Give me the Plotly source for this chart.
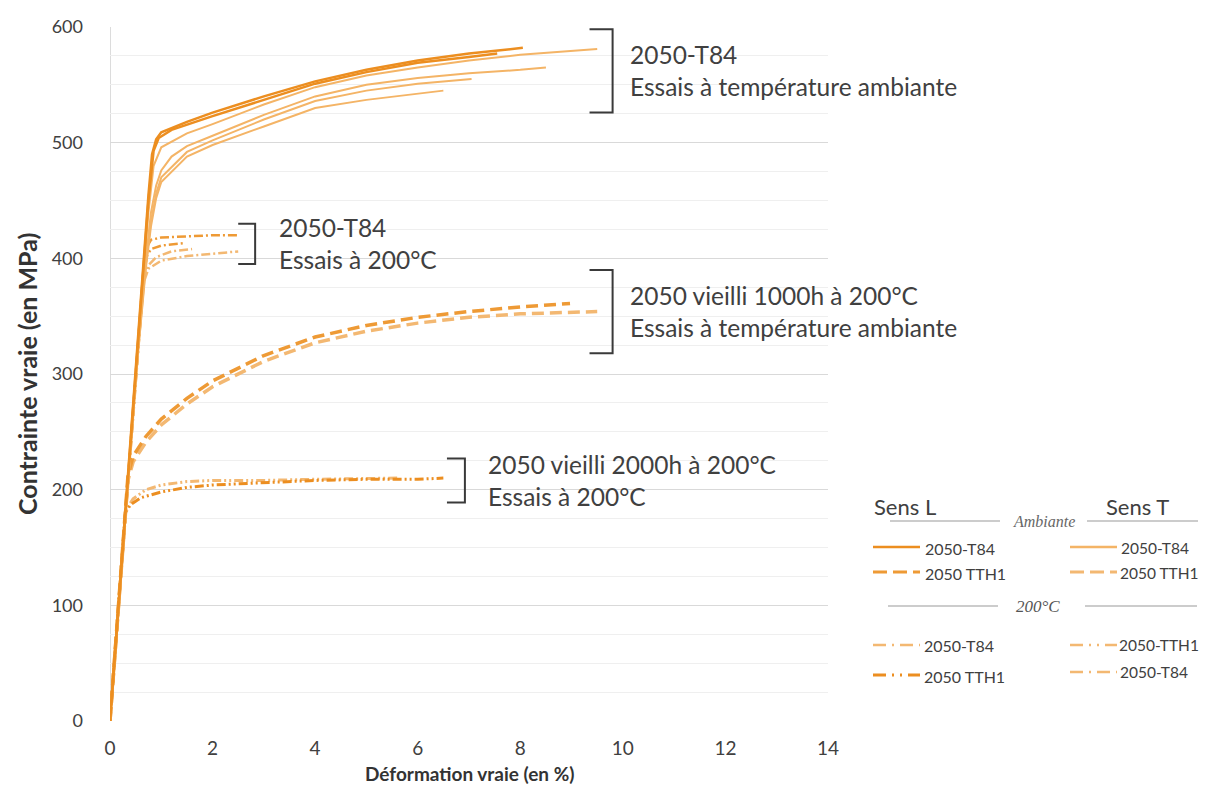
import plotly.graph_objects as go

# ---- data (true strain %, true stress MPa) ----
# ambient tests, 2050-T84, sens L
amb_t84_L1_x = [0, 0.3, 0.6, 0.75, 0.82, 0.9, 1.0, 1.5, 2, 3, 4, 5, 6, 7, 8.05]
amb_t84_L1_y = [0, 185, 365, 455, 490, 503, 509, 518, 526, 540, 553, 563, 571, 577, 582]
amb_t84_L2_x = [0, 0.3, 0.6, 0.75, 0.85, 0.95, 1.2, 2, 3, 4, 5, 6, 7, 7.55]
amb_t84_L2_y = [0, 182, 362, 450, 493, 504, 511, 523, 537, 551, 561, 569, 574, 577]
# ambient tests, 2050-T84, sens T
amb_t84_T1_x = [0, 0.3, 0.6, 0.75, 0.85, 1.0, 1.5, 2, 3, 4, 5, 6, 7, 8, 9, 9.5]
amb_t84_T1_y = [0, 180, 355, 440, 480, 496, 508, 516, 533, 548, 558, 565, 571, 576, 579, 581]
amb_t84_T2_x = [0, 0.3, 0.55, 0.7, 0.8, 0.9, 1.0, 1.2, 1.5, 2, 3, 4, 5, 6, 7, 8, 8.5]
amb_t84_T2_y = [0, 178, 325, 400, 440, 463, 476, 488, 497, 506, 524, 540, 550, 556, 560, 563, 565]
amb_t84_T3_x = [0, 0.3, 0.55, 0.7, 0.8, 0.9, 1.0, 1.5, 2, 3, 4, 5, 6, 7.05]
amb_t84_T3_y = [0, 176, 322, 395, 432, 456, 470, 492, 502, 520, 536, 545, 551, 555]
amb_t84_T4_x = [0, 0.3, 0.55, 0.7, 0.8, 0.9, 1.0, 1.5, 2, 3, 4, 5, 6, 6.5]
amb_t84_T4_y = [0, 175, 320, 392, 428, 452, 466, 488, 498, 514, 530, 537, 542, 545]

# ambient tests, 2050 aged 1000h at 200 C (TTH1)
amb_tth1_L_x = [0, 0.2, 0.35, 0.45, 0.7, 1, 1.5, 2, 3, 4, 5, 6, 7, 8, 8.97]
amb_tth1_L_y = [0, 125, 212, 229, 246, 261, 279, 294, 316, 332, 342, 349, 354, 358, 361]
amb_tth1_T_x = [0, 0.2, 0.35, 0.45, 0.7, 1, 1.5, 2, 3, 4, 5, 6, 7, 8, 9.5]
amb_tth1_T_y = [0, 122, 208, 224, 241, 256, 274, 289, 311, 327, 337, 344, 349, 352, 354]

# 200 C tests, 2050-T84
hot_t84_L1_x = [0, 0.3, 0.55, 0.65, 0.72, 0.8, 1.0, 1.5, 2, 2.5]
hot_t84_L1_y = [0, 180, 330, 388, 410, 416, 418, 419, 420, 420]
hot_t84_L2_x = [0, 0.3, 0.55, 0.65, 0.72, 0.8, 1.0, 1.42]
hot_t84_L2_y = [0, 180, 328, 385, 402, 408, 411, 413]
hot_t84_T1_x = [0, 0.3, 0.55, 0.65, 0.75, 1.0, 1.5, 2, 2.5]
hot_t84_T1_y = [0, 178, 325, 378, 391, 398, 402, 404, 406]
hot_t84_T2_x = [0, 0.3, 0.55, 0.65, 0.75, 0.9, 1.2, 1.6]
hot_t84_T2_y = [0, 178, 325, 380, 394, 401, 406, 408]

# 200 C tests, 2050 aged 2000h at 200 C (TTH1)
hot_tth1_L_x = [0, 0.3, 0.4, 0.6, 1, 1.5, 2, 3, 4, 5, 6, 6.5]
hot_tth1_L_y = [0, 180, 187, 193, 198, 202, 204, 206, 208, 209, 209, 210]
hot_tth1_T_x = [0, 0.3, 0.45, 0.7, 1, 1.5, 2, 3, 4, 5, 5.6]
hot_tth1_T_y = [0, 182, 192, 200, 204, 207, 208, 208, 209, 210, 210]

x_ticks = [0, 2, 4, 6, 8, 10, 12, 14]
y_ticks = [0, 100, 200, 300, 400, 500, 600]

# ---- styles ----
C_L = '#EC8E20'
C_T = '#F4B466'
C_L2 = '#EE9A35'
C_T2 = '#F3B872'
DASH = '12px,6px'
DASHDOT = '9px,3px,2px,3px'
DASHDOTDOT = '9px,3px,2px,3px,2px,3px'
FONT = 'Lato'
TXT = '#404040'

fig = go.Figure()


def add_curve(x, y, color, width, dash='solid'):
    fig.add_trace(go.Scatter(x=x, y=y, mode='lines', showlegend=False,
                             line=dict(color=color, width=width, dash=dash)))


add_curve(hot_tth1_T_x, hot_tth1_T_y, C_T2, 3, DASHDOTDOT)
add_curve(hot_tth1_L_x, hot_tth1_L_y, C_L, 3, DASHDOTDOT)
add_curve(hot_t84_T1_x, hot_t84_T1_y, C_T2, 2.5, DASHDOT)
add_curve(hot_t84_T2_x, hot_t84_T2_y, C_T2, 2.5, DASHDOT)
add_curve(hot_t84_L1_x, hot_t84_L1_y, C_L2, 2.5, DASHDOT)
add_curve(hot_t84_L2_x, hot_t84_L2_y, C_L2, 2.5, DASHDOT)
add_curve(amb_tth1_T_x, amb_tth1_T_y, C_T2, 3.5, DASH)
add_curve(amb_tth1_L_x, amb_tth1_L_y, C_L2, 3.5, DASH)
add_curve(amb_t84_T4_x, amb_t84_T4_y, C_T, 2)
add_curve(amb_t84_T3_x, amb_t84_T3_y, C_T, 2)
add_curve(amb_t84_T2_x, amb_t84_T2_y, C_T, 2)
add_curve(amb_t84_T1_x, amb_t84_T1_y, C_T, 2)
add_curve(amb_t84_L2_x, amb_t84_L2_y, C_L, 2.5)
add_curve(amb_t84_L1_x, amb_t84_L1_y, C_L, 2.5)

shapes = []
annotations = []


# bracket + two-line label
def bracket(xa, xb, y0, y1, xt, line1, line2, size=24.5):
    shapes.append(dict(type='path', xref='x', yref='y',
                       path=f'M {xa},{y1} L {xb},{y1} L {xb},{y0} L {xa},{y0}',
                       line=dict(color='#3a3a3a', width=2)))
    annotations.append(dict(x=xt, y=(y0 + y1) / 2, xref='x', yref='y', xanchor='left',
                            yanchor='middle', showarrow=False, align='left',
                            text=line1 + '<br>' + line2,
                            font=dict(family=FONT, size=size, color=TXT)))


bracket(9.35, 9.8, 526, 598, 10.1, '2050-T84', 'Essais à température ambiante')
bracket(2.5, 2.83, 395, 430, 3.25, '2050-T84', 'Essais à 200°C')
bracket(9.35, 9.8, 318, 390, 10.1, '2050 vieilli 1000h à 200°C', 'Essais à température ambiante')
bracket(6.57, 6.92, 189, 227, 7.33, '2050 vieilli 2000h à 200°C', 'Essais à 200°C')

# ---- page geometry (browser body margin of 8px) ----
W, H = 1193, 778
ML, MR, MT, MB = 102, 373, 19, 65
PW, PH = W - ML - MR, H - MT - MB


def px(x):
    return (x - 8 - ML) / PW


def py(y):
    return (H - MB - (y - 8)) / PH


# axis titles
annotations.append(dict(x=px(27), y=py(374), xref='paper', yref='paper', textangle=-90,
                        xanchor='center', yanchor='middle',
                        showarrow=False, text='<b>Contrainte vraie (en MPa)</b>',
                        font=dict(family=FONT, size=25, color='#333333')))
annotations.append(dict(x=px(469), y=py(773), xref='paper', yref='paper',
                        xanchor='center', yanchor='middle',
                        showarrow=False, text='<b>Déformation vraie (en %)</b>',
                        font=dict(family=FONT, size=19, color='#333333')))


# ---- custom legend (positions given in page pixels) ----
def leg_text(x, y, text, size=15.5, anchor='left', italic=False, color=TXT, family=FONT):
    if italic:
        text = '<i>' + text + '</i>'
    annotations.append(dict(x=px(x), y=py(y), xref='paper', yref='paper', xanchor=anchor,
                            yanchor='middle', showarrow=False, text=text,
                            font=dict(family=family, size=size, color=color)))


def leg_line(x0, x1, y, color, width, dash='solid'):
    shapes.append(dict(type='line', xref='paper', yref='paper', x0=px(x0), x1=px(x1),
                       y0=py(y), y1=py(y), line=dict(color=color, width=width, dash=dash)))


leg_text(905, 507, 'Sens L', size=22, anchor='center')
leg_text(1137, 507, 'Sens T', size=22, anchor='center')

leg_line(890, 1000, 521, '#9a9a9a', 1.2)
leg_line(1087, 1198, 521, '#9a9a9a', 1.2)
leg_text(1044, 521, 'Ambiante', size=16, anchor='center', italic=True, color='#666666',
         family='Liberation Serif')
leg_line(888, 998, 606, '#9a9a9a', 1.2)
leg_line(1085, 1197, 606, '#9a9a9a', 1.2)
leg_text(1038, 606, '200°C', size=17, anchor='center', italic=True, color='#555555',
         family='Liberation Serif')

leg_line(873, 920, 547, C_L, 2.5)
leg_text(923, 548, '2050-T84', size=16)
leg_line(1070, 1117, 547, C_T, 2.5)
leg_text(1119, 548, '2050-T84')

leg_line(873, 920, 572, C_L2, 3, '14px,6px')
leg_text(923, 573, '2050 TTH1', size=16)
leg_line(1070, 1117, 572, C_T2, 3, '14px,6px')
leg_text(1118, 573, '2050 TTH1')

leg_line(873, 920, 645, C_T2, 2.5, '13px,6px,2px,6px')
leg_text(922, 645, '2050-T84', size=16)
leg_line(1070, 1117, 645, C_T2, 2.5, '13px,6px,2px,6px,2px,6px')
leg_text(1117, 645, '2050-TTH1')

leg_line(873, 920, 675, C_L, 3, '13px,6px,2px,6px,2px,6px')
leg_text(922, 676, '2050 TTH1', size=16)
leg_line(1070, 1117, 672, C_T2, 2.5, '13px,6px,2px,6px')
leg_text(1118, 672, '2050-T84')

fig.update_layout(
    width=W, height=H,
    margin=dict(l=ML, r=MR, t=MT, b=MB, autoexpand=False),
    paper_bgcolor='white', plot_bgcolor='white',
    shapes=shapes, annotations=annotations,
    font=dict(family=FONT, size=18, color=TXT),
    showlegend=False,
)
fig.update_xaxes(range=[0, 14], tickvals=x_ticks, showgrid=False, zeroline=False,
                 showline=False, ticks='', ticklabelstandoff=14,
                 tickfont=dict(family=FONT, size=19, color=TXT))
fig.update_yaxes(range=[0, 600], tickvals=y_ticks, showgrid=True, gridcolor='#D9D9D9',
                 gridwidth=1.2, zeroline=False, showline=False, ticks='',
                 ticklabelstandoff=26, tickfont=dict(family=FONT, size=18, color=TXT),
                 minor=dict(dtick=25, tick0=0, showgrid=True, gridcolor='#EFEFEF', gridwidth=1))
# left border of the plotting area
fig.add_shape(type='line', xref='x', yref='paper', x0=0, x1=0, y0=0, y1=1,
              line=dict(color='#D0D0D0', width=1.5), layer='below')

fig.write_html("out.html")
